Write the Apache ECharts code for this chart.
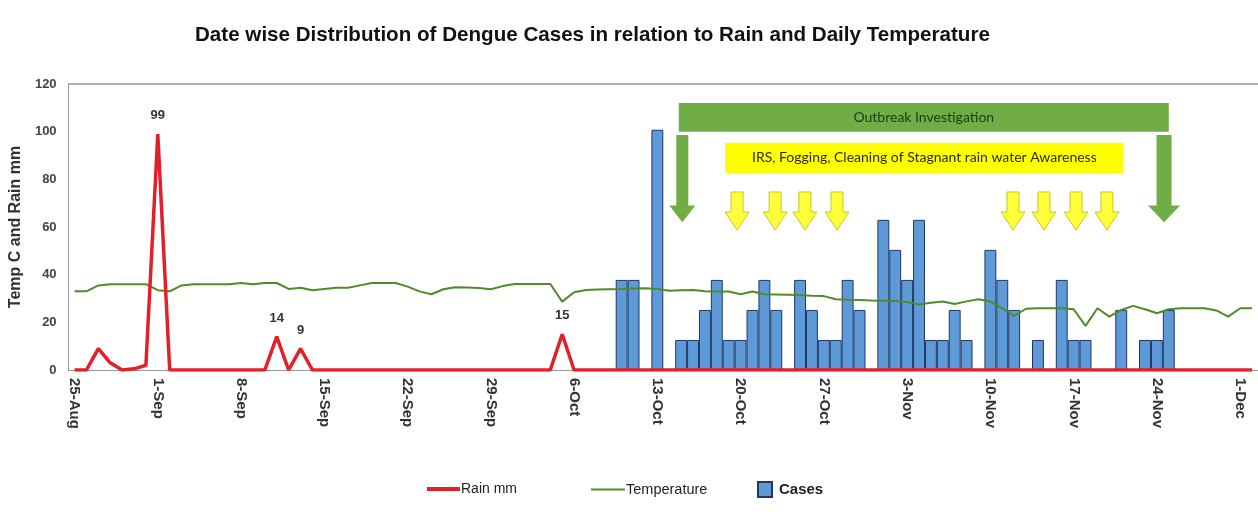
<!DOCTYPE html>
<html>
<head>
<meta charset="utf-8">
<script src="https://cdn.jsdelivr.net/npm/echarts@6/dist/echarts.min.js"></script>
<style>
  html, body { margin: 0; padding: 0; background: #fff; }
  #chart { width: 1258px; height: 514px; }
</style>
</head>
<body>
<div id="chart"></div>
<script>
// daily categories 25-Aug .. 2-Dec
var dates = [
  '25-Aug','26-Aug','27-Aug','28-Aug','29-Aug','30-Aug','31-Aug',
  '1-Sep','2-Sep','3-Sep','4-Sep','5-Sep','6-Sep','7-Sep','8-Sep','9-Sep','10-Sep',
  '11-Sep','12-Sep','13-Sep','14-Sep','15-Sep','16-Sep','17-Sep','18-Sep','19-Sep','20-Sep',
  '21-Sep','22-Sep','23-Sep','24-Sep','25-Sep','26-Sep','27-Sep','28-Sep','29-Sep','30-Sep',
  '1-Oct','2-Oct','3-Oct','4-Oct','5-Oct','6-Oct','7-Oct','8-Oct','9-Oct','10-Oct',
  '11-Oct','12-Oct','13-Oct','14-Oct','15-Oct','16-Oct','17-Oct','18-Oct','19-Oct','20-Oct',
  '21-Oct','22-Oct','23-Oct','24-Oct','25-Oct','26-Oct','27-Oct','28-Oct','29-Oct','30-Oct','31-Oct',
  '1-Nov','2-Nov','3-Nov','4-Nov','5-Nov','6-Nov','7-Nov','8-Nov','9-Nov','10-Nov',
  '11-Nov','12-Nov','13-Nov','14-Nov','15-Nov','16-Nov','17-Nov','18-Nov','19-Nov','20-Nov',
  '21-Nov','22-Nov','23-Nov','24-Nov','25-Nov','26-Nov','27-Nov','28-Nov','29-Nov','30-Nov',
  '1-Dec','2-Dec'
];

var rain = [
  0, 0, 9, 3, 0, 0.5, 2,
  99, 0, 0, 0, 0, 0, 0, 0, 0, 0,
  14, 0, 9, 0, 0, 0, 0, 0, 0, 0,
  0, 0, 0, 0, 0, 0, 0, 0, 0, 0,
  0, 0, 0, 0, 15, 0, 0, 0, 0, 0,
  0, 0, 0, 0, 0, 0, 0, 0, 0, 0,
  0, 0, 0, 0, 0, 0, 0, 0, 0, 0, 0,
  0, 0, 0, 0, 0, 0, 0, 0, 0, 0,
  0, 0, 0, 0, 0, 0, 0, 0, 0, 0,
  0, 0, 0, 0, 0, 0, 0, 0, 0, 0,
  0, 0
];

var temperature = [
  33, 33, 35.5, 36, 36, 36, 36,
  33.5, 33, 35.5, 36, 36, 36, 36, 36.5, 36, 36.5,
  36.5, 34, 34.5, 33.5, 34, 34.5, 34.5, 35.5, 36.5, 36.5,
  36.5, 35, 33, 31.8, 33.9, 34.7, 34.6, 34.4, 33.9, 35.2,
  36.1, 36.1, 36.1, 36.1, 28.7, 32.6, 33.6, 33.8, 33.9, 34,
  34.2, 34.3, 34, 33.3, 33.5, 33.6, 33, 32.9, 32.9, 31.8,
  32.9, 31.8, 31.7, 31.6, 31.5, 31.2, 31, 29.7, 29.5, 29.4, 29.2,
  29.1, 29, 28.5, 27.5, 28.2, 28.7, 27.7, 28.8, 29.7, 28.7,
  25.9, 22.7, 25.7, 25.9, 25.9, 25.9, 25.5, 18.5, 25.9, 22.4,
  25.2, 26.9, 25.5, 23.8, 25.5, 25.9, 25.9, 25.9, 25, 22.4,
  25.9, 25.9
];

var cases = [
  null, null, null, null, null, null, null,
  null, null, null, null, null, null, null, null, null, null,
  null, null, null, null, null, null, null, null, null, null,
  null, null, null, null, null, null, null, null, null, null,
  null, null, null, null, null, null, null, null, null, 37.8,
  37.8, null, 100.8, null, 12.6, 12.6, 25.2, 37.8, 12.6, 12.6,
  25.2, 37.8, 25.2, null, 37.8, 25.2, 12.6, 12.6, 37.8, 25.2, null,
  63, 50.4, 37.8, 63, 12.6, 12.6, 25.2, 12.6, null, 50.4,
  37.8, 25.2, null, 12.6, null, 37.8, 12.6, 12.6, null, null,
  25.2, null, 12.6, 12.6, 25.2, null, null, null, null, null,
  null, null
];

// rain peaks that carry a value label
var rainLabelled = [7, 17, 19, 41];

var yTicks = [0, 20, 40, 60, 80, 100, 120];

// annotation positions in day index / y value units
var outbreakBar = { from: 50.8, to: 92.0, y0: 100, y1: 112, text: 'Outbreak Investigation' };
var outbreakArrows = [51.1, 91.6];
var controlBox = { from: 54.7, to: 88.2, y0: 82.7, y1: 95.3, text: 'IRS, Fogging, Cleaning of Stagnant rain water Awareness' };
var controlArrows = [55.7, 58.9, 61.4, 64.1, 78.9, 81.5, 84.2, 86.8];

var NARROW = '"Liberation Sans Narrow", "Liberation Sans", Arial, sans-serif';
var ARIAL = '"Liberation Sans", Arial, sans-serif';

var chart = echarts.init(document.getElementById('chart'));

var rainData = rain.map(function (v, i) {
  if (rainLabelled.indexOf(i) >= 0) {
    return { value: v, label: { show: true } };
  }
  return v;
});

var option = {
  animation: false,
  title: {
    text: 'Date wise Distribution of Dengue Cases in relation to Rain and Daily Temperature',
    left: 190,
    top: 20,
    textStyle: { fontFamily: NARROW, fontSize: 20.6, fontWeight: 'bold', color: '#111' }
  },
  legend: [
    {
      data: [{ name: 'Rain mm', icon: 'rect' }],
      left: 422, top: 477, itemWidth: 33, itemHeight: 4,
      textStyle: { fontFamily: NARROW, fontSize: 14, color: '#222', padding: [0, 0, 0, -4] }
    },
    {
      data: [{ name: 'Temperature', icon: 'rect' }],
      left: 586, top: 477, itemWidth: 34, itemHeight: 2,
      textStyle: { fontFamily: NARROW, fontSize: 14.5, color: '#222', padding: [0, 0, 0, -4] }
    },
    {
      data: [{ name: 'Cases', icon: 'rect' }],
      left: 752, top: 476, itemWidth: 14, itemHeight: 15,
      textStyle: { fontFamily: ARIAL, fontSize: 15, fontWeight: 'bold', color: '#222', padding: [0, 0, 0, 2] }
    }
  ],
  grid: { left: 64, right: 0, top: 84, bottom: 144 },
  xAxis: [
    {
      type: 'category',
      data: dates,
      boundaryGap: true,
      axisLine: { lineStyle: { color: '#999' } },
      axisTick: { show: false },
      axisLabel: {
        interval: 6,
        rotate: -90,
        margin: 8,
        fontFamily: NARROW,
        fontSize: 15,
        fontWeight: 'bold',
        color: '#333'
      }
    },
    {
      type: 'category',
      data: dates,
      position: 'top',
      axisLine: { lineStyle: { color: '#999', width: 1.5 } },
      axisTick: { show: false },
      axisLabel: { show: false }
    }
  ],
  yAxis: {
    type: 'value',
    min: 0,
    max: 120,
    interval: 20,
    name: 'Temp C and Rain mm',
    nameLocation: 'middle',
    nameGap: 34,
    nameTextStyle: { fontFamily: NARROW, fontSize: 16, fontWeight: 'bold', color: '#333' },
    axisLine: { show: true, lineStyle: { color: '#999' } },
    axisTick: { show: false },
    splitLine: { show: false },
    axisLabel: {
      margin: 12,
      fontFamily: NARROW,
      fontSize: 13,
      fontWeight: 'bold',
      color: '#444',
      customValues: yTicks
    }
  },
  series: [
    {
      name: 'Cases',
      type: 'bar',
      data: cases,
      barCategoryGap: '0%',
      itemStyle: { color: '#5f9ad8', borderColor: '#1f3864', borderWidth: 1 }
    },
    {
      name: 'Temperature',
      type: 'line',
      data: temperature,
      symbol: 'none',
      lineStyle: { color: '#4f8a2b', width: 2 },
      itemStyle: { color: '#4f8a2b' }
    },
    {
      name: 'Rain mm',
      type: 'line',
      data: rainData,
      symbol: 'circle',
      symbolSize: 0,
      showSymbol: true,
      showAllSymbol: true,
      lineStyle: { color: '#e3202a', width: 3.5 },
      itemStyle: { color: '#e3202a' },
      label: {
        show: false,
        position: 'top',
        distance: 12,
        fontFamily: NARROW,
        fontSize: 13,
        fontWeight: 'bold',
        color: '#333'
      }
    }
  ]
};

chart.setOption(option);

function xPix(i) {
  var p0 = chart.convertToPixel({ xAxisIndex: 0 }, dates[0]);
  var pN = chart.convertToPixel({ xAxisIndex: 0 }, dates[dates.length - 1]);
  return p0 + (pN - p0) * i / (dates.length - 1);
}
function yPix(v) {
  return chart.convertToPixel({ yAxisIndex: 0 }, v);
}

function downArrow(cx, yTop, yHead, yTip, shaftW, headW) {
  return [
    [cx - shaftW / 2, yTop], [cx + shaftW / 2, yTop], [cx + shaftW / 2, yHead],
    [cx + headW / 2, yHead], [cx, yTip], [cx - headW / 2, yHead], [cx - shaftW / 2, yHead]
  ];
}

function drawNotes() {
  var g = [];
  var bx0 = xPix(outbreakBar.from), bx1 = xPix(outbreakBar.to);
  var by0 = yPix(outbreakBar.y1), by1 = yPix(outbreakBar.y0);
  g.push({ type: 'rect', shape: { x: bx0, y: by0, width: bx1 - bx0, height: by1 - by0 },
           style: { fill: '#70ad47' }, z: 10 });
  g.push({ type: 'text', x: (bx0 + bx1) / 2, y: (by0 + by1) / 2, z: 11,
           style: { text: outbreakBar.text, fill: '#1d3a10', font: '14px Lato, sans-serif',
                    align: 'center', verticalAlign: 'middle' } });

  var ayTop = yPix(98.6), ayHead = yPix(69), ayTip = yPix(62);
  outbreakArrows.forEach(function (d, k) {
    var cx = xPix(d);
    g.push({ type: 'polygon', z: 10,
             shape: { points: downArrow(cx, ayTop, ayHead, ayTip, k === 0 ? 12 : 15, k === 0 ? 26 : 32) },
             style: { fill: '#70ad47' } });
  });

  var cx0 = xPix(controlBox.from), cx1 = xPix(controlBox.to);
  var cy0 = yPix(controlBox.y1), cy1 = yPix(controlBox.y0);
  g.push({ type: 'rect', shape: { x: cx0, y: cy0, width: cx1 - cx0, height: cy1 - cy0 },
           style: { fill: '#ffff00' }, z: 10 });
  g.push({ type: 'text', x: (cx0 + cx1) / 2, y: (cy0 + cy1) / 2, z: 11,
           style: { text: controlBox.text, fill: '#2b2b10', font: '14px Lato, sans-serif',
                    align: 'center', verticalAlign: 'middle' } });

  var yyTop = yPix(74.7), yyHead = yPix(66.3), yyTip = yPix(58.7);
  controlArrows.forEach(function (d) {
    g.push({ type: 'polygon', z: 10,
             shape: { points: downArrow(xPix(d), yyTop, yyHead, yyTip, 12, 24) },
             style: { fill: '#ffff3a', stroke: '#c8c820', lineWidth: 1 } });
  });

  chart.setOption({ graphic: g });
}

drawNotes();

window.onresize = function () {
  chart.resize();
  drawNotes();
};
</script>
</body>
</html>
